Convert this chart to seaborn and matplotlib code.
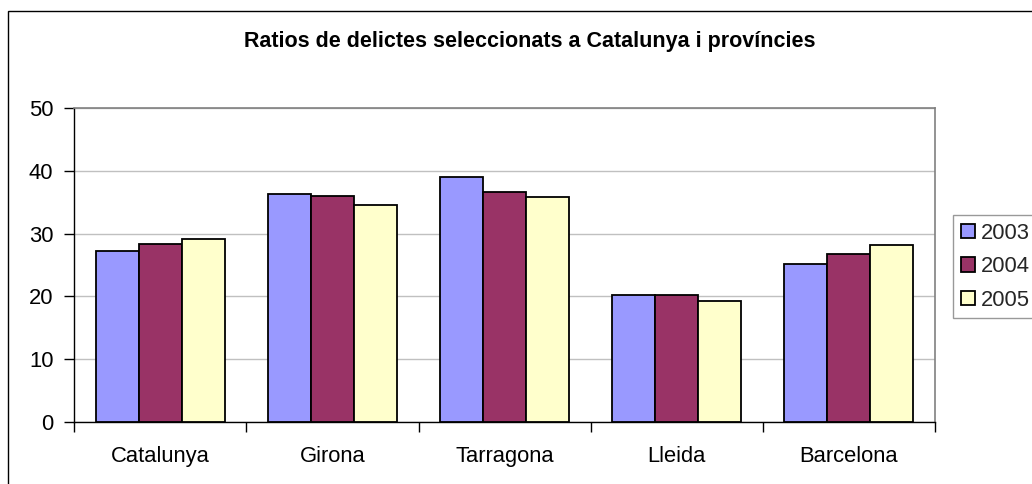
import matplotlib
matplotlib.use("Agg")
import matplotlib.pyplot as plt
import seaborn as sns
import pandas as pd
from matplotlib.patches import Rectangle
from matplotlib.ticker import FixedLocator

categories = ["Catalunya", "Girona", "Tarragona", "Lleida", "Barcelona"]
years = ["2003", "2004", "2005"]
values_2003 = [27.3, 36.3, 39.0, 20.3, 25.2]
values_2004 = [28.3, 36.0, 36.6, 20.3, 26.8]
values_2005 = [29.1, 34.5, 35.9, 19.3, 28.2]
colors = ["#9999FF", "#993366", "#FFFFCC"]
title = "Ratios de delictes seleccionats a Catalunya i províncies"

rows = []
for y, vals in zip(years, [values_2003, values_2004, values_2005]):
    for c, v in zip(categories, vals):
        rows.append({"cat": c, "year": y, "value": v})
df = pd.DataFrame(rows)

sns.set_theme(style="white")
plt.rcParams["font.family"] = ["Liberation Sans", "DejaVu Sans"]

FS = 15.8

fig = plt.figure(figsize=(10.32, 4.84), dpi=100)
ax = fig.add_axes([74.3 / 1032, 1 - 422 / 484, (935 - 74.3) / 1032, (422 - 108) / 484])

sns.barplot(data=df, x="cat", y="value", hue="year", order=categories,
            hue_order=years, palette=colors, width=0.75, gap=0,
            edgecolor="black", linewidth=1.3, saturation=1, ax=ax, zorder=3)

ax.set_ylim(0, 50)
ax.set_xlim(-0.5, len(categories) - 0.5)
ax.set_yticks([0, 10, 20, 30, 40, 50])
ax.yaxis.grid(True, color="#c0c0c0", linewidth=1, zorder=0)
ax.set_axisbelow(True)
ax.set_xlabel("")
ax.set_ylabel("")

ax.xaxis.set_minor_locator(FixedLocator([i - 0.5 for i in range(len(categories) + 1)]))
ax.tick_params(axis="x", which="major", length=0, pad=17, labelsize=FS, colors="black")
ax.tick_params(axis="x", which="minor", bottom=True, length=7, width=1, color="black", direction="out")
ax.tick_params(axis="y", left=True, length=7, width=1, color="black", direction="out", pad=8,
               labelsize=FS, labelcolor="black")

for s in ["top", "right"]:
    ax.spines[s].set_color("#808080")
    ax.spines[s].set_linewidth(1.2)
ax.spines["left"].set_color("black")
ax.spines["bottom"].set_color("black")
ax.spines["left"].set_linewidth(1)
ax.spines["bottom"].set_linewidth(1)

handles, labels = ax.get_legend_handles_labels()
if ax.legend_:
    ax.legend_.remove()
leg = fig.legend(handles, labels, loc="upper left",
                 bbox_to_anchor=(953 / 1032, 1 - 215 / 484),
                 frameon=True, fontsize=FS, handlelength=0.65, handleheight=0.65,
                 handletextpad=0.25, labelspacing=0.57, borderpad=0.35,
                 borderaxespad=0, fancybox=False)
leg.get_frame().set_edgecolor("#808080")
leg.get_frame().set_linewidth(1)

fig.text(530 / 1032, 1 - 41 / 484, title, ha="center", va="center",
         fontsize=15.5, fontweight="bold", color="black")

fig.add_artist(Rectangle((8 / 1032, -0.1), 1.2, 1.1 - 11.5 / 484,
                         transform=fig.transFigure, fill=False,
                         edgecolor="black", linewidth=1))

fig.savefig("out.png", dpi=100)
